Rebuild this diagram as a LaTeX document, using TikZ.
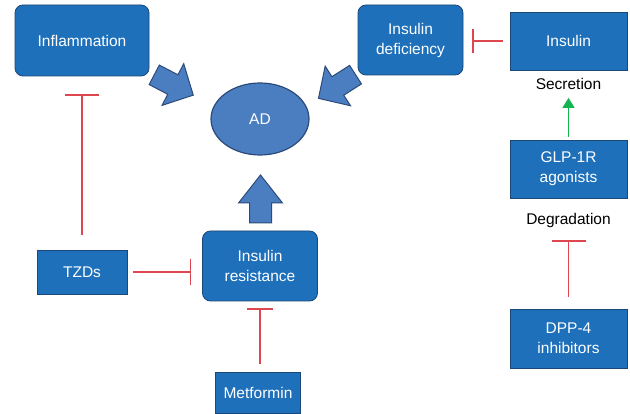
\documentclass[tikz,border=0pt]{standalone}
\usepackage{fontspec}
\setmainfont{Liberation Sans}
\usetikzlibrary{arrows.meta,shapes.geometric}
\definecolor{boxblue}{RGB}{30,112,186}
\definecolor{boxedge}{RGB}{28,72,120}
\definecolor{arrblue}{RGB}{74,126,193}
\definecolor{arredge}{RGB}{45,75,120}
\definecolor{inhred}{RGB}{222,70,80}
\definecolor{actgreen}{RGB}{20,180,80}
\tikzset{
  box/.style={draw=boxedge, line width=0.8pt, fill=boxblue, text=white, align=center, inner sep=0pt,
    font=\fontsize{15.5}{20}\selectfont},
  rbox/.style={box, rounded corners=8pt},
  lbl/.style={text=black, font=\fontsize{15.5}{20}\selectfont, inner sep=0pt},
  inh/.style={draw=inhred, line width=1.4pt},
  act/.style={draw=actgreen, line width=1.6pt, -{Triangle[length=10pt,width=12pt]}},
  fatarrowstyle/.style={draw=arredge, line width=1pt, fill=arrblue, line join=miter},
}
\newcommand\myfatarrow[5]{% coordinate, angle, length, head length, head width
  \begin{scope}[shift={(#1)}, rotate=#2]
    \draw[fatarrowstyle] (-#3/2,-11) -- (#3/2-#4,-11) -- (#3/2-#4,-#5/2) -- (#3/2,0)
      -- (#3/2-#4,#5/2) -- (#3/2-#4,11) -- (-#3/2,11) -- cycle;
  \end{scope}}
\begin{document}
\begin{tikzpicture}[x=1pt,y=-1pt]
\useasboundingbox (0,0) rectangle (630,414);
\fill[white] (0,0) rectangle (630,414);
% nodes
\node[rbox, minimum width=134pt, minimum height=71pt] (infl) at (82,40.5) {Inflammation};
\node[draw=arredge, line width=1.2pt, fill=arrblue, ellipse, minimum width=98pt, minimum height=72pt,
      inner sep=0pt, text=white, font=\fontsize{15.5}{20}\selectfont] (ad) at (260,119) {AD};
\node[rbox, minimum width=105pt, minimum height=70pt] (defic) at (410.5,40) {Insulin\\deficiency};
\node[box, minimum width=117pt, minimum height=58pt] (ins) at (568.5,41) {Insulin};
\node[lbl] (secr) at (568.5,84) {Secretion};
\node[box, minimum width=117pt, minimum height=58pt] (glp) at (568.5,169) {GLP-1R\\agonists};
\node[lbl] (degr) at (568.5,220) {Degradation};
\node[box, minimum width=117pt, minimum height=59pt] (dpp) at (568.5,338.5) {DPP-4\\inhibitors};
\node[box, minimum width=90pt, minimum height=44pt] (tzd) at (82,272) {TZDs};
\node[rbox, minimum width=115pt, minimum height=70pt] (ires) at (260,266) {Insulin\\resistance};
\node[box, minimum width=85pt, minimum height=41pt] (met) at (258,392.5) {Metformin};
% fat arrows into AD
\coordinate (aL) at (173.75,85);
\coordinate (aR) at (337,86.5);
\coordinate (aU) at (260.5,199);
\myfatarrow{aL}{-27.5}{44}{23}{47}
\myfatarrow{aR}{-147.4}{44}{23}{47}
\myfatarrow{aU}{90}{48}{28}{44}
% inhibition connectors
\draw[inh, -{Bar[width=24pt,line width=1.4pt]}] ([xshift=-7pt]ins.west) -- ([xshift=9pt]defic.east |- ins.west);
\draw[inh, -{Bar[width=26pt,line width=1.4pt]}] ([xshift=6pt]tzd.east) -- ([xshift=-11pt]ires.west |- tzd.east);
\draw[inh, -{Bar[width=34pt,line width=1.4pt]}] ([yshift=15pt]tzd.north) -- ([yshift=-18pt]infl.south);
\draw[inh, -{Bar[width=26pt,line width=1.4pt]}] ([yshift=8pt]met.north -| ires.south) -- ([yshift=-7pt]ires.south);
\draw[inh, -{Bar[width=34pt,line width=1.4pt]}] ([yshift=12pt]dpp.north) -- ([yshift=-13pt]degr.south);
% activation
\draw[act] ([yshift=3pt]glp.north) -- ([yshift=-8pt]secr.south);
\end{tikzpicture}
\end{document}
